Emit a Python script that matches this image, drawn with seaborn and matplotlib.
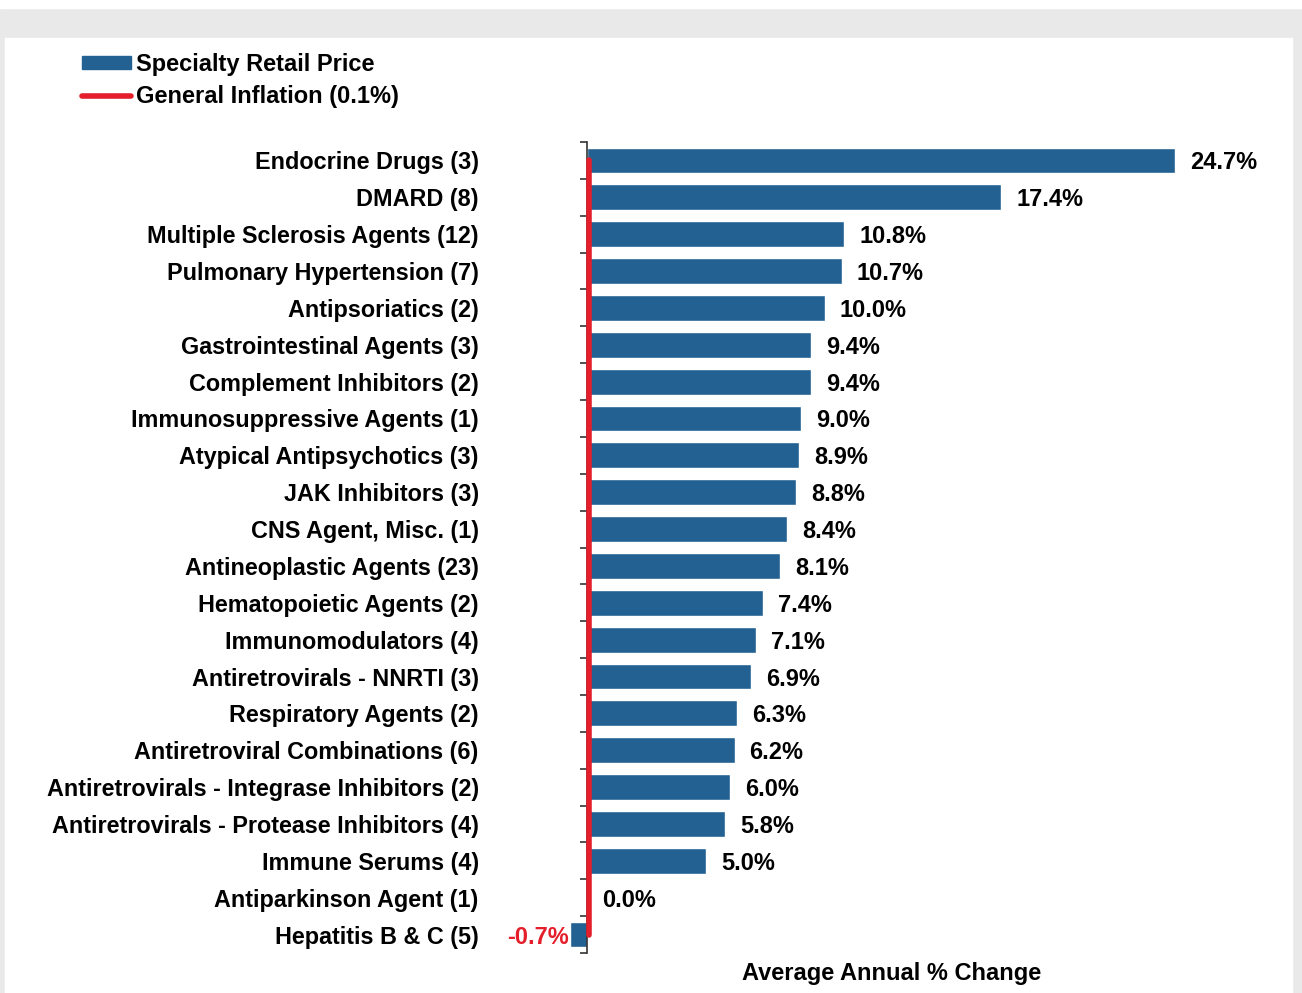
import numpy as np
import pandas as pd
import matplotlib.pyplot as plt
import matplotlib.patches as mpatches
from matplotlib.lines import Line2D
import seaborn as sns

# ─────────────────────────────────────────────
# DATA
# ─────────────────────────────────────────────
categories = [
    "Endocrine Drugs (3)", "DMARD (8)", "Multiple Sclerosis Agents (12)",
    "Pulmonary Hypertension (7)", "Antipsoriatics (2)", "Gastrointestinal Agents (3)",
    "Complement Inhibitors (2)", "Immunosuppressive Agents (1)", "Atypical Antipsychotics (3)",
    "JAK Inhibitors (3)", "CNS Agent, Misc. (1)", "Antineoplastic Agents (23)",
    "Hematopoietic Agents (2)", "Immunomodulators (4)", "Antiretrovirals - NNRTI (3)",
    "Respiratory Agents (2)", "Antiretroviral Combinations (6)",
    "Antiretrovirals - Integrase Inhibitors (2)", "Antiretrovirals - Protease Inhibitors (4)",
    "Immune Serums (4)", "Antiparkinson Agent (1)", "Hepatitis B & C (5)",
]
pct_change = [24.7, 17.4, 10.8, 10.7, 10.0, 9.4, 9.4, 9.0, 8.9, 8.8, 8.4, 8.1,
              7.4, 7.1, 6.9, 6.3, 6.2, 6.0, 5.8, 5.0, 0.0, -0.7]
inflation = 0.1

BLUE = "#236192"
RED = "#e41e2b"

sns.set_style("white")
plt.rcParams['font.family'] = ['Liberation Sans', 'DejaVu Sans']
plt.rcParams['font.weight'] = 'bold'
plt.rcParams['text.color'] = 'black'
plt.rcParams['axes.labelcolor'] = 'black'
plt.rcParams['ytick.color'] = 'black'

df = pd.DataFrame({"category": categories, "change": pct_change})

fig = plt.figure(figsize=(13.02, 9.93), dpi=100, facecolor="#e9e9e9")
W, H = 1302, 993
# white panel + white strip at very top
fig.patches.append(mpatches.Rectangle((5 / W, 0), 1287 / W, 1 - 38 / H,
                                      transform=fig.transFigure, color="white", zorder=-10))
fig.patches.append(mpatches.Rectangle((0, 1 - 8 / H), 1, 8 / H,
                                      transform=fig.transFigure, color="white", zorder=-10))

xmin, xmax = -4.6, 28
px_per_unit = 23.8
left_px = 587 + xmin * px_per_unit
ax = fig.add_axes([left_px / W, 1 - 953 / H, (xmax - xmin) * px_per_unit / W, 811 / H])
ax.set_facecolor("none")

sns.barplot(data=df, x="change", y="category", orient="h", color=BLUE,
            width=0.7, saturation=1, ax=ax)
ax.set_xlim(xmin, xmax)
ax.set_ylim(len(categories) - 0.5, -0.5)

# inflation reference line
ax.plot([inflation, inflation], [0, len(categories) - 1], color=RED, lw=4,
        solid_capstyle="round", zorder=5)

# value labels
FS = 17
for i, v in enumerate(pct_change):
    if v < 0:
        ax.text(v - 0.05, i, f"{v:.1f}%", ha="right", va="center_baseline",
                fontsize=FS, fontweight="bold", color=RED)
    else:
        ax.text(v + 0.63, i, f"{v:.1f}%", ha="left", va="center_baseline",
                fontsize=FS, fontweight="bold", color="black")

# axes styling
for s in ["top", "right", "bottom"]:
    ax.spines[s].set_visible(False)
ax.spines["left"].set_position(("data", 0))
ax.spines["left"].set_color("#333333")
ax.spines["left"].set_linewidth(1.2)
ax.set_xticks([])
ax.set_yticks(np.arange(-0.5, len(categories), 1), minor=True)
ax.tick_params(axis="y", which="major", length=0, pad=78, labelsize=16.8)
ax.tick_params(axis="y", which="minor", length=5, width=1.2, color="#333333", left=True)
for lbl in ax.get_yticklabels():
    lbl.set_fontweight("bold")
    lbl.set_verticalalignment("center_baseline")
ax.set_ylabel("")
ax.set_xlabel("Average Annual % Change", fontsize=FS, fontweight="bold")
ax.xaxis.set_label_coords((892 - left_px) / ((xmax - xmin) * px_per_unit), -0.011)

# legend
handles = [mpatches.Patch(color=BLUE, label="Specialty Retail Price"),
           Line2D([0], [0], color=RED, lw=4, solid_capstyle="round",
                  label="General Inflation (0.1%)")]
leg = fig.legend(handles=handles, loc="upper left", bbox_to_anchor=(70 / W, 1 - 41 / H),
                 frameon=False, fontsize=FS, handlelength=2.1, handleheight=0.5,
                 handletextpad=0.2, labelspacing=0.4, borderpad=0)
for t in leg.get_texts():
    t.set_fontweight("bold")

fig.savefig("out.png", dpi=100, facecolor=fig.get_facecolor())
